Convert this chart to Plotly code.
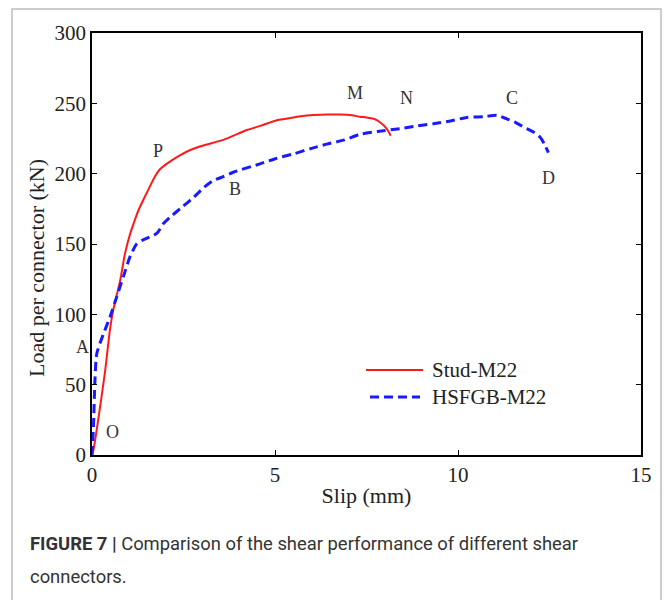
import plotly.graph_objects as go

# Load-slip curves of the two connector types
stud_slip = [0, 0.04, 0.22, 0.36, 0.49, 0.58, 0.77, 0.90, 1.04, 1.17, 1.27, 1.49, 1.72, 1.85,
             2.04, 2.40, 2.70, 3.04, 3.59, 4.23, 4.60, 5.05, 5.50, 5.96, 6.40, 6.78,
             7.10, 7.32, 7.50, 7.70, 7.87, 8.05, 8.16]
stud_load = [0, 3.5, 34, 60, 89, 103, 124, 143, 157, 167, 174, 186, 198, 203,
             207, 213, 217, 220, 224, 231, 234, 238, 240, 241.5, 242, 242,
             241.5, 240.5, 240, 239, 236.5, 232, 227]

hsfgb_slip = [0, 0.02, 0.04, 0.08, 0.13, 0.31, 0.49, 0.67, 0.86, 1.04, 1.22, 1.40,
              1.77, 1.95, 2.13, 2.45, 2.77, 3.05, 3.31, 3.60, 3.86, 4.59, 5.05, 5.50, 6.00,
              6.41, 6.90, 7.32, 7.80, 8.42, 8.90, 9.33, 9.80, 10.24, 10.70, 11.06,
              11.33, 11.60, 11.88, 12.10, 12.24, 12.36, 12.47]
hsfgb_load = [0, 10, 20, 53, 72, 86, 98, 112, 127, 141, 150, 153,
              157.5, 164.5, 169, 176, 183, 190, 195, 198, 201, 207, 211, 214, 218,
              221, 224, 228, 230, 232, 234, 235.5, 237.5, 240, 240.5, 241.5,
              239, 236, 232, 229, 226, 221, 215]

series_names = ["Stud-M22", "HSFGB-M22"]

# Characteristic points marked on the curves
point_labels = ["M", "N", "C", "P", "B", "D", "O"]
point_x = [7.19, 8.58, 11.48, 1.80, 3.91, 12.46, 0.57]
point_y = [257, 254, 254, 216, 189, 197, 16.3]
point_a_load = 76.7  # "A" sits just left of the load axis

x_ticks = [0, 5, 10, 15]
y_ticks = [0, 50, 100, 150, 200, 250, 300]

SERIF = "Liberation Serif"
RED = "#ff1a1a"
BLUE = "#1a1aff"
TXT = "#222222"

fig = go.Figure()
fig.add_trace(go.Scatter(x=stud_slip, y=stud_load, mode="lines", name=series_names[0],
                         line=dict(color=RED, width=2, shape="spline", smoothing=0.6),
                         showlegend=False))
fig.add_trace(go.Scatter(x=hsfgb_slip, y=hsfgb_load, mode="lines", name=series_names[1],
                         line=dict(color=BLUE, width=3, dash="9px,5px", shape="spline",
                                   smoothing=0.6),
                         showlegend=False))

for lab, px, py in zip(point_labels, point_x, point_y):
    fig.add_annotation(x=px, y=py, text=lab, showarrow=False,
                       font=dict(family=SERIF, size=18, color="#333333"))
fig.add_annotation(x=-0.002, xref="paper", y=point_a_load, yref="y", text="A",
                   showarrow=False, xanchor="right",
                   font=dict(family=SERIF, size=18, color="#333333"))

# plot area in pixels: x 92..641, y 33..455
L, R, T, B = 92, 641, 33, 455
W, H = R - L, B - T


def px_x(p):
    return (p - L) / W


def px_y(p):
    return (B - p) / H


# legend drawn as line samples + labels
legend_rows = [(370, RED, 2, "solid", 366, 423), (397, BLUE, 3, "9px,5px", 370, 420)]
for (yy, col, wd, dash, xa, xb), name in zip(legend_rows, series_names):
    fig.add_shape(type="line", xref="paper", yref="paper",
                  x0=px_x(xa), x1=px_x(xb), y0=px_y(yy), y1=px_y(yy),
                  line=dict(color=col, width=wd, dash=dash))
    fig.add_annotation(xref="paper", yref="paper", x=px_x(430), y=px_y(yy),
                       xanchor="left", yanchor="middle", text=name, showarrow=False,
                       font=dict(family=SERIF, size=21, color=TXT))

# outer figure frame
fig.add_shape(type="rect", xref="paper", yref="paper",
              x0=px_x(12), x1=px_x(661), y0=px_y(610), y1=px_y(9),
              line=dict(color="#bdbdbd", width=1.5), layer="below")

# caption
cap_font = dict(family="Roboto", size=18.4, color="#333333")
fig.add_annotation(xref="paper", yref="paper", x=px_x(28), y=px_y(543),
                   xanchor="left", yanchor="middle", showarrow=False, font=cap_font,
                   text="<b>FIGURE 7 |</b> Comparison of the shear performance of different shear")
fig.add_annotation(xref="paper", yref="paper", x=px_x(28), y=px_y(576),
                   xanchor="left", yanchor="middle", showarrow=False, font=cap_font,
                   text="connectors.")

# load axis title
fig.add_annotation(xref="paper", yref="paper", x=px_x(36), y=px_y(268),
                   xanchor="center", yanchor="middle", textangle=-90, showarrow=False,
                   text="Load per connector (kN)",
                   font=dict(family=SERIF, size=22, color=TXT))

axis_common = dict(showline=True, linecolor="black", linewidth=1.5, mirror="ticks",
                   ticks="inside", ticklen=5, tickwidth=1.2, tickcolor="black",
                   showgrid=False, zeroline=False,
                   tickfont=dict(family=SERIF, size=21, color=TXT))

fig.update_xaxes(range=[0, 15], tickvals=x_ticks,
                 title=dict(text="Slip (mm)", standoff=2,
                            font=dict(family=SERIF, size=22, color=TXT)),
                 **axis_common)
fig.update_yaxes(range=[0, 300], tickvals=y_ticks, ticklabelstandoff=0,
                 **axis_common)

fig.update_layout(width=665, height=600, plot_bgcolor="white", paper_bgcolor="white",
                  margin=dict(l=L, r=665 - R, t=T, b=600 - B), showlegend=False)

fig.write_html("out.html")
